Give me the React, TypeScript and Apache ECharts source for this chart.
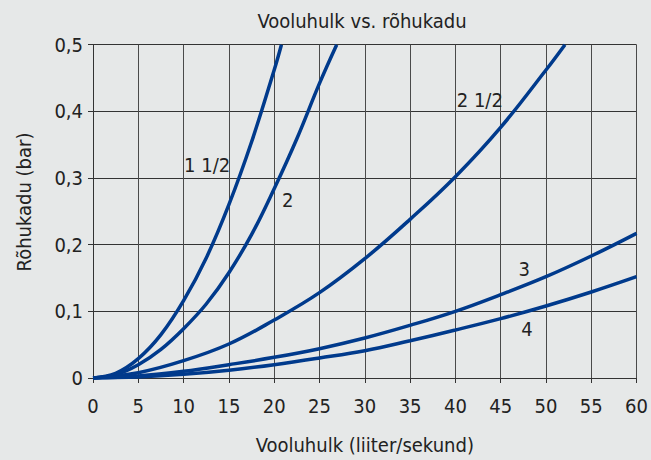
import React, { useEffect, useRef } from "react";
import * as echarts from "echarts";

const titleText = "Vooluhulk vs. rõhukadu";
const xName = "Vooluhulk (liiter/sekund)";
const yName = "Rõhukadu (bar)";

const seriesNames = ["1 1/2", "2", "2 1/2", "3", "4"];

const x15 = [0, 2.5, 5, 7.5, 10, 12.5, 15, 17.5, 20, 20.8];
const y15 = [0, 0.007, 0.029, 0.065, 0.116, 0.180, 0.260, 0.354, 0.462, 0.5];

const x2 = [0, 2.5, 5, 7.5, 10, 12.5, 15, 17.5, 20, 22.5, 25, 26.9];
const y2 = [0, 0.005, 0.020, 0.043, 0.074, 0.111, 0.158, 0.215, 0.284, 0.359, 0.442, 0.5];

const x25 = [0, 5, 10, 15, 20, 25, 30, 35, 40, 45, 50, 52.1];
const y25 = [0, 0.008, 0.026, 0.051, 0.087, 0.128, 0.179, 0.238, 0.302, 0.376, 0.462, 0.5];

const x3 = [0, 5, 10, 15, 20, 25, 30, 35, 40, 45, 50, 55, 60];
const y3 = [0, 0.003, 0.010, 0.020, 0.031, 0.044, 0.060, 0.079, 0.100, 0.125, 0.152, 0.183, 0.217];

const x4 = [0, 5, 10, 15, 20, 25, 30, 35, 40, 45, 50, 55, 60];
const y4 = [0, 0.0015, 0.0055, 0.0117, 0.020, 0.030, 0.041, 0.056, 0.072, 0.089, 0.108, 0.129, 0.152];

const labelX = [12.6, 21.5, 42.7, 47.6, 47.9];
const labelY = [0.32, 0.267, 0.417, 0.163, 0.073];

const FONT = "'Liberation Sans Narrow', 'Arial Narrow', 'DejaVu Sans Condensed', 'Liberation Sans', sans-serif";
const LINE = "#003a8c";
const TEXT = "#222222";
const BG = "#e6e8e8";

export default function App() {
  const ref = useRef<HTMLDivElement>(null);
  useEffect(() => {
    if (!ref.current) return;
    const chart = echarts.init(ref.current, undefined, { renderer: "svg" });
    const xs = [x15, x2, x25, x3, x4];
    const ys = [y15, y2, y25, y3, y4];
    const series: any[] = seriesNames.map((name, i) => ({
      type: "line",
      name,
      data: xs[i].map((x, j) => [x, ys[i][j]]),
      smooth: 0.4,
      showSymbol: false,
      symbol: "none",
      lineStyle: { color: LINE, width: 3.5 },
      markPoint: {
        symbol: "circle",
        symbolSize: 0,
        silent: true,
        data: [{ coord: [labelX[i], labelY[i]], value: name }],
        label: {
          show: true,
          formatter: name,
          color: TEXT,
          fontSize: 20,
          fontFamily: FONT,
          position: "inside",
        },
      },
    }));
    chart.setOption({
      animation: false,
      backgroundColor: BG,
      textStyle: { fontFamily: FONT },
      graphic: [
        {
          type: "text",
          x: 362,
          y: 21,
          style: {
            text: titleText,
            fill: TEXT,
            fontSize: 20,
            fontFamily: FONT,
            textAlign: "center",
            textVerticalAlign: "middle",
          },
        },
        {
          type: "text",
          x: 24,
          y: 202,
          rotation: Math.PI / 2,
          style: {
            text: yName,
            fill: TEXT,
            fontSize: 20,
            fontFamily: FONT,
            textAlign: "center",
            textVerticalAlign: "middle",
          },
        },
      ],
      grid: { left: 93, right: 14, top: 44.7, bottom: 81.3, containLabel: false },
      xAxis: {
        type: "value",
        min: 0,
        max: 60,
        interval: 5,
        name: xName,
        nameLocation: "middle",
        nameGap: 57,
        nameTextStyle: { color: TEXT, fontSize: 20, fontFamily: FONT },
        axisLine: { show: true, lineStyle: { color: "#333", width: 1 } },
        axisTick: { show: true, length: 5, lineStyle: { color: "#333" } },
        axisLabel: { color: TEXT, fontSize: 20, fontFamily: FONT, margin: 18 },
        splitLine: { show: true, lineStyle: { color: "#4a4a4a", width: 1 } },
      },
      yAxis: {
        type: "value",
        min: 0,
        max: 0.5,
        interval: 0.1,
        axisLine: { show: true, lineStyle: { color: "#333", width: 1 } },
        axisTick: { show: true, length: 5, lineStyle: { color: "#333" } },
        axisLabel: {
          color: TEXT,
          fontSize: 20,
          fontFamily: FONT,
          margin: 10,
          formatter: (v: number) => String(Math.round(v * 10) / 10).replace(".", ","),
        },
        splitLine: { show: true, lineStyle: { color: "#333", width: 1 } },
      },
      series,
    });
    return () => chart.dispose();
  }, []);
  return (
    <div
      ref={ref}
      style={{ position: "absolute", left: 0, top: 0, width: 651, height: 460 }}
    />
  );
}
